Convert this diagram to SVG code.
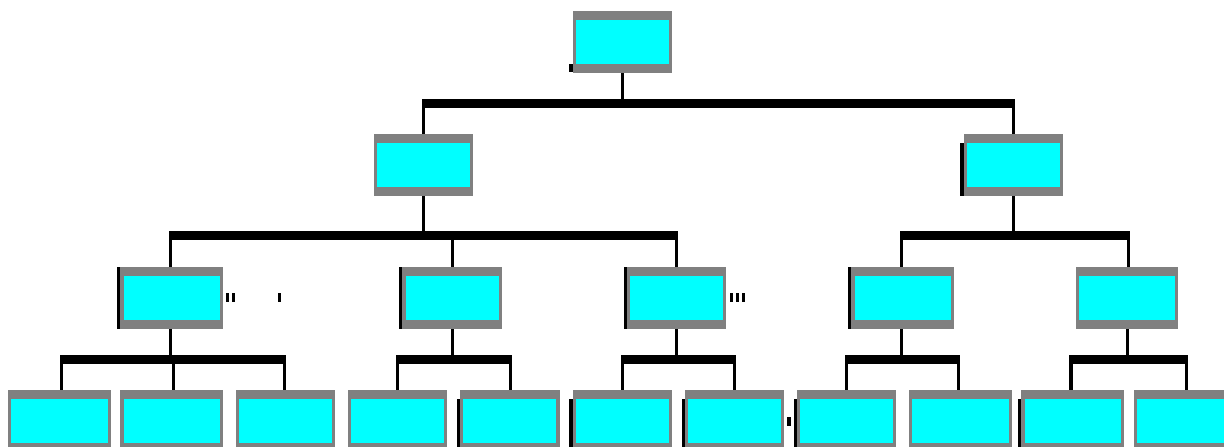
<svg xmlns="http://www.w3.org/2000/svg" width="1224" height="447" viewBox="0 0 1224 447">
  <style>
    rect { shape-rendering: crispEdges; }
    .frame { fill: #808080; }
    .face { fill: #00FFFF; }
    .edge { fill: #000000; }
    .wire { fill: #000000; }
  </style>
  <rect x="0" y="0" width="1224" height="447" fill="#FFFFFF"/>

  <!-- connectors: trunk, bus bars and drops -->
  <g id="connectors">
    <!-- root to level 1 -->
    <rect class="wire" x="621" y="73" width="3" height="26"/>
    <rect class="wire" x="422" y="99" width="593" height="9"/>
    <rect class="wire" x="422" y="108" width="3" height="26"/>
    <rect class="wire" x="1012" y="108" width="3" height="26"/>
    <!-- left level 1 to level 2 -->
    <rect class="wire" x="422" y="196" width="3" height="35"/>
    <rect class="wire" x="169" y="231" width="509" height="9"/>
    <rect class="wire" x="169" y="240" width="3" height="27"/>
    <rect class="wire" x="451" y="240" width="3" height="27"/>
    <rect class="wire" x="675" y="240" width="3" height="27"/>
    <!-- right level 1 to level 2 -->
    <rect class="wire" x="1012" y="196" width="3" height="35"/>
    <rect class="wire" x="900" y="231" width="230" height="9"/>
    <rect class="wire" x="900" y="240" width="3" height="27"/>
    <rect class="wire" x="1127" y="240" width="3" height="27"/>
    <!-- level 2 to level 3 -->
    <rect class="wire" x="169" y="329" width="3" height="26"/>
    <rect class="wire" x="60" y="355" width="226" height="9"/>
    <rect class="wire" x="60" y="364" width="3" height="26"/>
    <rect class="wire" x="172" y="364" width="3" height="26"/>
    <rect class="wire" x="283" y="364" width="3" height="26"/>

    <rect class="wire" x="451" y="329" width="3" height="26"/>
    <rect class="wire" x="396" y="355" width="116" height="9"/>
    <rect class="wire" x="396" y="364" width="3" height="26"/>
    <rect class="wire" x="509" y="364" width="3" height="26"/>

    <rect class="wire" x="675" y="329" width="3" height="26"/>
    <rect class="wire" x="621" y="355" width="115" height="9"/>
    <rect class="wire" x="621" y="364" width="3" height="26"/>
    <rect class="wire" x="733" y="364" width="3" height="26"/>

    <rect class="wire" x="900" y="329" width="3" height="26"/>
    <rect class="wire" x="845" y="355" width="115" height="9"/>
    <rect class="wire" x="845" y="364" width="3" height="26"/>
    <rect class="wire" x="957" y="364" width="3" height="26"/>

    <rect class="wire" x="1126" y="329" width="3" height="26"/>
    <rect class="wire" x="1069" y="355" width="119" height="9"/>
    <rect class="wire" x="1069" y="364" width="4" height="26"/>
    <rect class="wire" x="1185" y="364" width="3" height="26"/>
  </g>

  <!-- level 0 -->
  <g id="n0">
    <rect class="frame" x="573" y="11" width="99" height="62"/>
    <rect class="face" x="576" y="20" width="93" height="44"/>
    <rect class="edge" x="569" y="64" width="4" height="8"/>
  </g>

  <!-- level 1 -->
  <g id="n1">
    <rect class="frame" x="374" y="134" width="99" height="62"/>
    <rect class="face" x="377" y="143" width="93" height="44"/>
  </g>
  <g id="n2">
    <rect class="frame" x="964" y="134" width="99" height="62"/>
    <rect class="face" x="967" y="143" width="93" height="44"/>
    <rect class="edge" x="960" y="143" width="4" height="53"/>
  </g>

  <!-- level 2 -->
  <g id="n3">
    <rect class="frame" x="120" y="267" width="103" height="62"/>
    <rect class="face" x="124" y="276" width="96" height="44"/>
    <rect class="edge" x="117" y="267" width="3" height="62"/>
    <rect class="edge" x="226" y="293" width="3" height="9"/>
    <rect class="edge" x="232" y="293" width="3" height="9"/>
    <rect class="edge" x="278" y="293" width="3" height="9"/>
  </g>
  <g id="n4">
    <rect class="frame" x="402" y="267" width="100" height="62"/>
    <rect class="face" x="406" y="276" width="93" height="44"/>
    <rect class="edge" x="399" y="267" width="3" height="62"/>
  </g>
  <g id="n5">
    <rect class="frame" x="627" y="267" width="99" height="62"/>
    <rect class="face" x="630" y="276" width="93" height="44"/>
    <rect class="edge" x="624" y="267" width="3" height="62"/>
    <rect class="edge" x="730" y="293" width="3" height="9"/>
    <rect class="edge" x="736" y="293" width="3" height="9"/>
    <rect class="edge" x="742" y="293" width="3" height="9"/>
  </g>
  <g id="n6">
    <rect class="frame" x="851" y="267" width="103" height="62"/>
    <rect class="face" x="855" y="276" width="96" height="44"/>
    <rect class="edge" x="848" y="267" width="3" height="62"/>
  </g>
  <g id="n7">
    <rect class="frame" x="1076" y="267" width="102" height="62"/>
    <rect class="face" x="1079" y="276" width="96" height="44"/>
  </g>

  <!-- level 3 -->
  <g id="n8">
    <rect class="frame" x="8" y="390" width="103" height="62"/>
    <rect class="face" x="11" y="399" width="97" height="44"/>
  </g>
  <g id="n9">
    <rect class="frame" x="120" y="390" width="103" height="62"/>
    <rect class="face" x="124" y="399" width="96" height="44"/>
  </g>
  <g id="n10">
    <rect class="frame" x="236" y="390" width="99" height="62"/>
    <rect class="face" x="239" y="399" width="93" height="44"/>
  </g>
  <g id="n11">
    <rect class="frame" x="348" y="390" width="99" height="62"/>
    <rect class="face" x="351" y="399" width="93" height="44"/>
  </g>
  <g id="n12">
    <rect class="frame" x="460" y="390" width="100" height="62"/>
    <rect class="face" x="463" y="399" width="93" height="44"/>
    <rect class="edge" x="457" y="399" width="3" height="48"/>
  </g>
  <g id="n13">
    <rect class="frame" x="573" y="390" width="99" height="62"/>
    <rect class="face" x="576" y="399" width="93" height="44"/>
    <rect class="edge" x="569" y="399" width="4" height="48"/>
  </g>
  <g id="n14">
    <rect class="frame" x="685" y="390" width="99" height="62"/>
    <rect class="face" x="688" y="399" width="93" height="44"/>
    <rect class="edge" x="682" y="399" width="3" height="48"/>
    <rect class="edge" x="787" y="417" width="4" height="9"/>
  </g>
  <g id="n15">
    <rect class="frame" x="797" y="390" width="99" height="62"/>
    <rect class="face" x="800" y="399" width="93" height="44"/>
    <rect class="edge" x="794" y="399" width="3" height="48"/>
  </g>
  <g id="n16">
    <rect class="frame" x="909" y="390" width="103" height="62"/>
    <rect class="face" x="912" y="399" width="97" height="44"/>
  </g>
  <g id="n17">
    <rect class="frame" x="1021" y="390" width="103" height="62"/>
    <rect class="face" x="1025" y="399" width="96" height="44"/>
    <rect class="edge" x="1018" y="399" width="3" height="48"/>
  </g>
  <g id="n18">
    <rect class="frame" x="1134" y="390" width="103" height="62"/>
    <rect class="face" x="1137" y="399" width="97" height="44"/>
  </g>
</svg>
